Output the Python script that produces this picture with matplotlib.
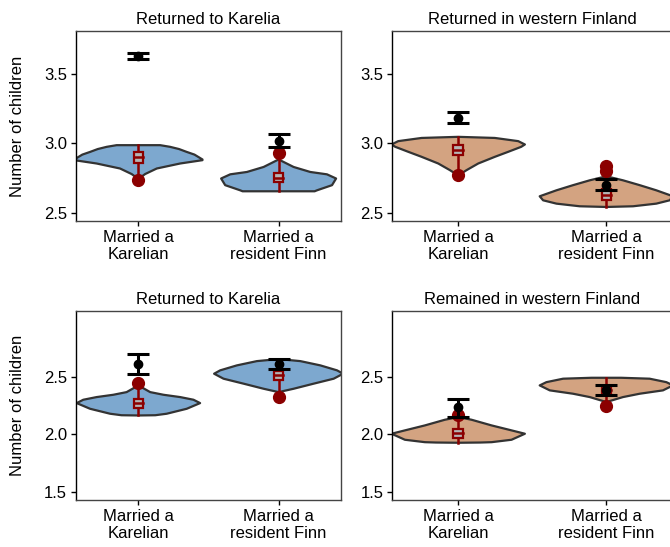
import numpy as np
import matplotlib.pyplot as plt

plt.rcParams['font.family'] = ['Liberation Sans', 'DejaVu Sans']

# panel titles and categories
titles = ["Returned to Karelia", "Returned in western Finland",
          "Returned to Karelia", "Remained in western Finland"]
categories = ["Married a\nKarelian", "Married a\nresident Finn"]

# violin outlines: y level and half width (category units)
p1_kar_y = [2.745, 2.78, 2.82, 2.856, 2.88, 2.885, 2.92, 2.94, 2.96, 2.976, 2.988]
p1_kar_w = [0.0, 0.048, 0.131, 0.298, 0.457, 0.457, 0.40, 0.343, 0.29, 0.226, 0.155]
p1_fin_y = [2.656, 2.663, 2.70, 2.748, 2.778, 2.795, 2.831, 2.885]
p1_fin_w = [0.257, 0.274, 0.381, 0.41, 0.345, 0.226, 0.107, 0.0]

p2_kar_y = [2.77, 2.808, 2.856, 2.904, 2.94, 2.976, 2.993, 3.017, 3.04, 3.048]
p2_kar_w = [0.0, 0.056, 0.135, 0.247, 0.337, 0.425, 0.45, 0.405, 0.247, 0.0]
p2_fin_y = [2.543, 2.548, 2.567, 2.591, 2.62, 2.663, 2.70, 2.735, 2.764]
p2_fin_w = [0.0, 0.18, 0.337, 0.427, 0.45, 0.337, 0.225, 0.112, 0.0]

p3_kar_y = [2.164, 2.166, 2.179, 2.222, 2.271, 2.30, 2.323, 2.343, 2.366, 2.424]
p3_kar_w = [0.0, 0.12, 0.202, 0.345, 0.44, 0.393, 0.298, 0.179, 0.084, 0.0]
p3_fin_y = [2.366, 2.395, 2.439, 2.482, 2.525, 2.554, 2.597, 2.634, 2.646]
p3_fin_w = [0.0, 0.107, 0.25, 0.393, 0.46, 0.417, 0.298, 0.155, 0.05]

p4_kar_y = [1.928, 1.93, 1.933, 1.954, 2.006, 2.035, 2.078, 2.127, 2.15]
p4_kar_w = [0.0, 0.15, 0.225, 0.36, 0.45, 0.36, 0.225, 0.09, 0.0]
p4_fin_y = [2.28, 2.323, 2.352, 2.381, 2.424, 2.452, 2.482, 2.49]
p4_fin_w = [0.0, 0.112, 0.225, 0.382, 0.45, 0.405, 0.292, 0.1]

violins_y = [[p1_kar_y, p1_fin_y], [p2_kar_y, p2_fin_y],
             [p3_kar_y, p3_fin_y], [p4_kar_y, p4_fin_y]]
violins_w = [[p1_kar_w, p1_fin_w], [p2_kar_w, p2_fin_w],
             [p3_kar_w, p3_fin_w], [p4_kar_w, p4_fin_w]]

# red range line (lo, hi)
red_lo = [[2.735, 2.656], [2.776, 2.543], [2.164, 2.323], [1.928, 2.25]]
red_hi = [[2.988, 2.93], [3.048, 2.82], [2.447, 2.646], [2.17, 2.49]]
# red dots
red_dots = [[[2.735], [2.93]], [[2.776], [2.84, 2.80]],
            [[2.447], [2.323]], [[2.17], [2.25]]]
# small red boxes
box_lo = [[2.86, 2.72], [2.92, 2.59], [2.23, 2.47], [1.97, 2.35]]
box_med = [[2.90, 2.755], [2.955, 2.63], [2.27, 2.51], [2.01, 2.38]]
box_hi = [[2.94, 2.79], [2.99, 2.67], [2.31, 2.55], [2.05, 2.41]]
# black mean with interval
mean = [[3.63, 3.019], [3.185, 2.704], [2.606, 2.611], [2.236, 2.381]]
mean_lo = [[3.606, 2.976], [3.149, 2.663], [2.519, 2.568], [2.15, 2.343]]
mean_hi = [[3.653, 3.067], [3.228, 2.743], [2.692, 2.655], [2.309, 2.424]]

ylims = [(2.442, 3.81), (2.442, 3.81), (1.433, 3.07), (1.433, 3.07)]
yticks = [[2.5, 3.0, 3.5], [2.5, 3.0, 3.5], [1.5, 2.0, 2.5], [1.5, 2.0, 2.5]]
fills = ["#7da8cf", "#d3a381", "#7da8cf", "#d3a381"]
red = "#8b0000"

W, H = 670, 547
fig = plt.figure(figsize=(W / 100, H / 100), dpi=100)
# axes boxes in pixels: left, top, right, bottom
boxes = [(76, 31, 341, 221), (392.3, 31, 672.3, 221),
         (76, 310.7, 341, 500), (392.3, 310.7, 672.3, 500)]

for i in range(4):
    l, t, r, b = boxes[i]
    ax = fig.add_axes([l / W, 1 - b / H, (r - l) / W, (b - t) / H])
    x = np.arange(len(categories))
    for j in range(2):
        yy = np.array(violins_y[i][j])
        ww = np.array(violins_w[i][j])
        xs = np.concatenate([x[j] + ww, (x[j] - ww)[::-1]])
        ys = np.concatenate([yy, yy[::-1]])
        ax.fill(xs, ys, facecolor=fills[i], edgecolor="#333333", lw=1.6,
                joinstyle='round', zorder=1)
        ax.plot([x[j], x[j]], [red_lo[i][j], red_hi[i][j]], color=red, lw=1.8, zorder=2)
        bw = 0.032
        ax.add_patch(plt.Rectangle((x[j] - bw, box_lo[i][j]), 2 * bw,
                                   box_hi[i][j] - box_lo[i][j],
                                   facecolor="#b5b5b5", edgecolor=red, lw=1.6, zorder=3))
        ax.plot([x[j] - bw, x[j] + bw], [box_med[i][j]] * 2, color=red, lw=1.8, zorder=3)
        ax.plot([x[j]] * len(red_dots[i][j]), red_dots[i][j], 'o', color=red,
                ms=8.5, zorder=4)
        ax.errorbar(x[j], mean[i][j],
                    yerr=[[mean[i][j] - mean_lo[i][j]], [mean_hi[i][j] - mean[i][j]]],
                    fmt='o', color='black', ms=6, elinewidth=2.2,
                    capsize=8, capthick=2.2, zorder=5)
    ax.set_xlim(-0.445, 1.445)
    ax.set_ylim(*ylims[i])
    ax.set_yticks(yticks[i])
    ax.set_yticklabels(["%.1f" % v for v in yticks[i]])
    ax.set_xticks(x)
    ax.set_xticklabels(categories)
    ax.tick_params(labelsize=12, length=3.5, width=1, direction='out', pad=3)
    ax.set_title(titles[i], fontsize=12, pad=5)
    for s in ax.spines.values():
        s.set_color("#444444")
        s.set_linewidth(1.0)
    ax.spines['left'].set_color("black")
    if i % 2 == 0:
        ax.set_ylabel("Number of children", fontsize=12)
        ax.yaxis.set_label_coords(-51 / (r - l), 0.5)

fig.savefig("out.png", dpi=100)
